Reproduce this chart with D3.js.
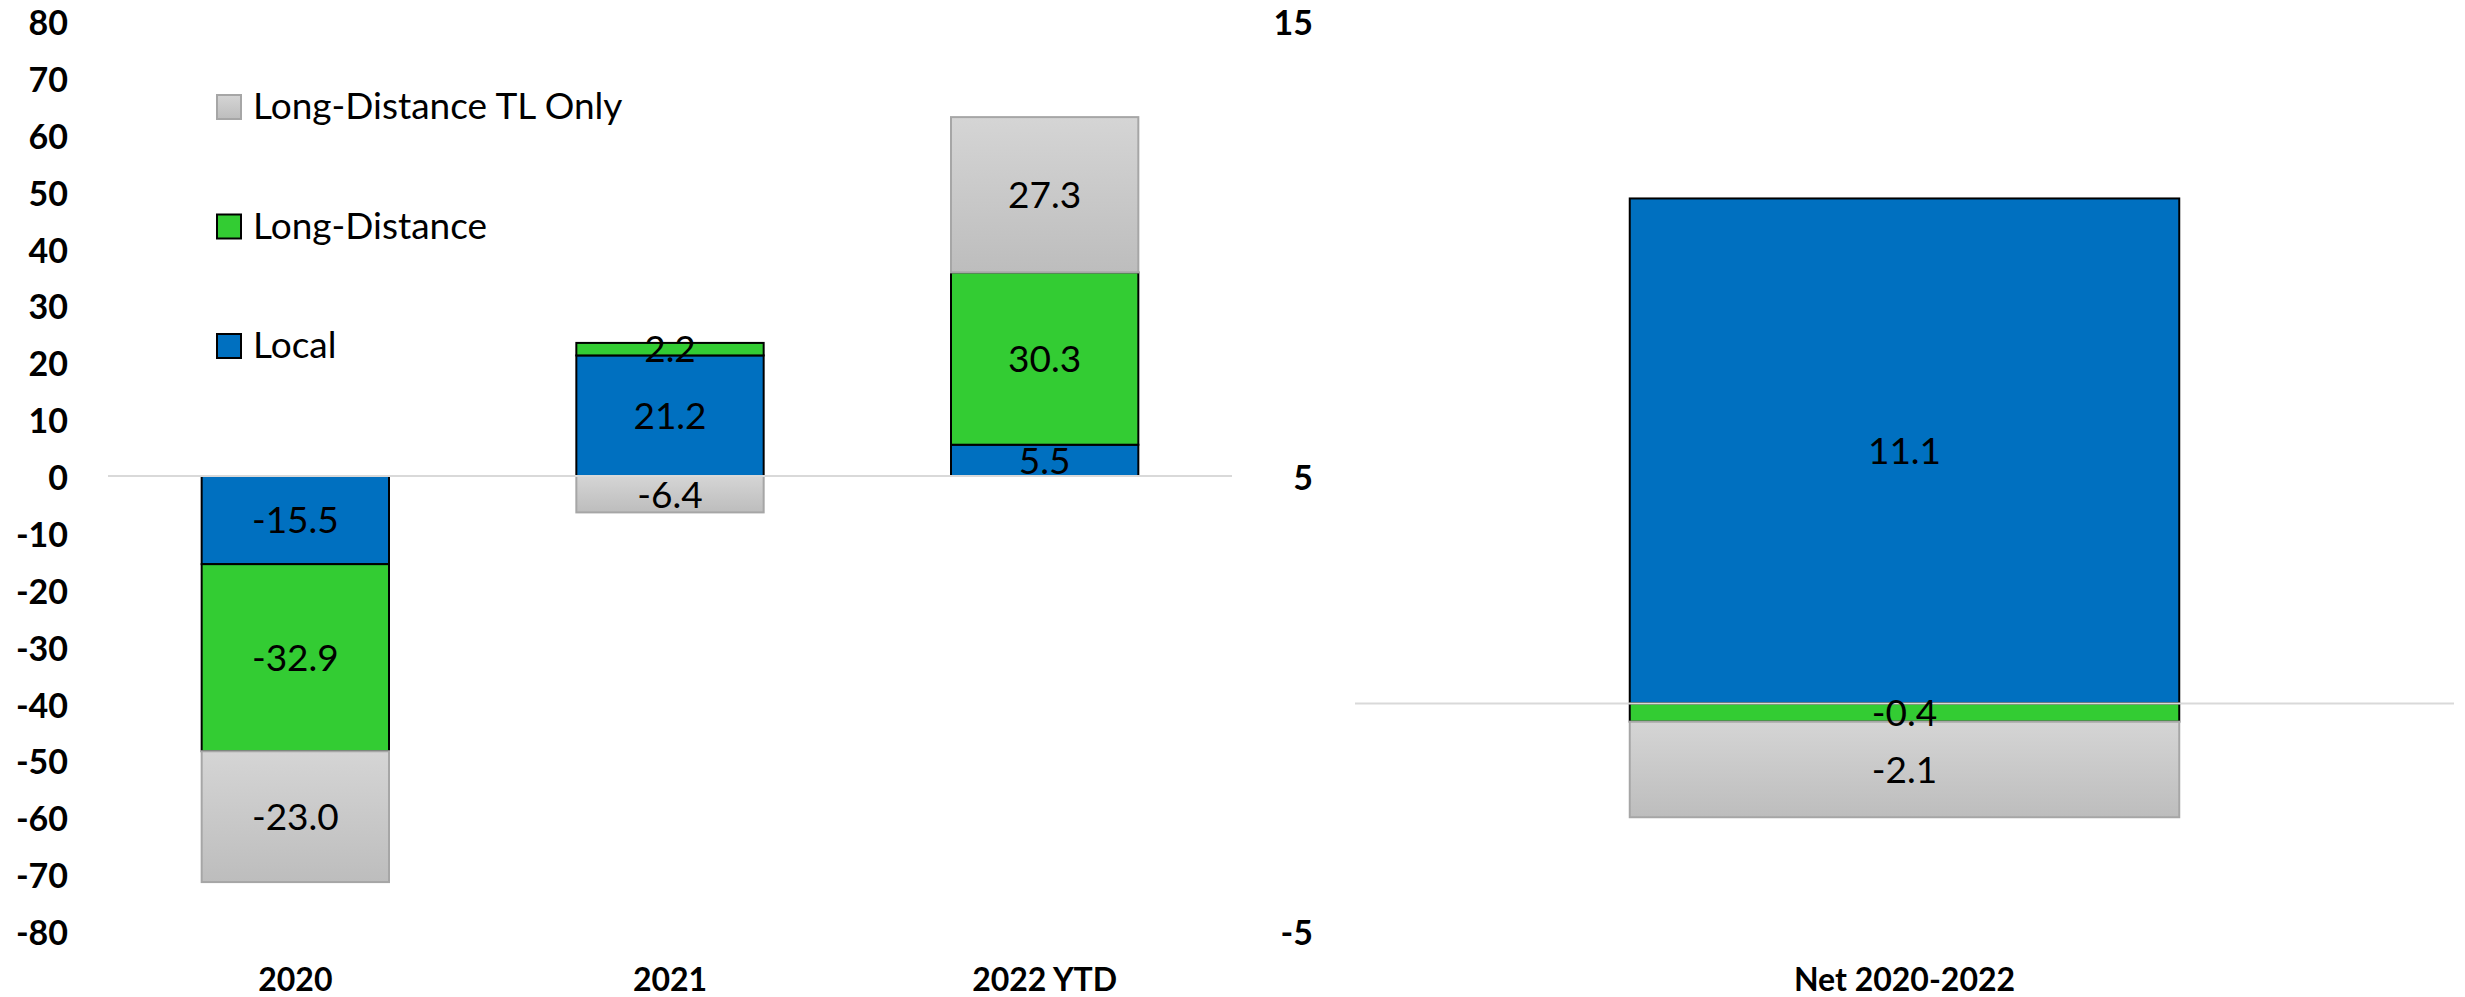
<!DOCTYPE html>
<html>
<head>
<meta charset="utf-8">
<script src="https://cdn.jsdelivr.net/npm/d3@7"></script>
<style>
  html, body { margin: 0; padding: 0; background: #ffffff; }
  svg { display: block; }
</style>
</head>
<body>
<svg id="chart" width="2465" height="997"></svg>
<script>
// ---- data ----
const categoriesLeft = ["2020", "2021", "2022 YTD"];
const categoriesRight = ["Net 2020-2022"];
const seriesNames = ["Local", "Long-Distance", "Long-Distance TL Only"];
const localValues = [-15.5, 21.2, 5.5];
const longDistanceValues = [-32.9, 2.2, 30.3];
const tlOnlyValues = [-23.0, -6.4, 27.3];
const netLocal = [11.1];
const netLongDistance = [-0.4];
const netTlOnly = [-2.1];
const leftTicks = [80, 70, 60, 50, 40, 30, 20, 10, 0, -10, -20, -30, -40, -50, -60, -70, -80];
const rightTicks = [15, 5, -5];
const legendOrder = ["Long-Distance TL Only", "Long-Distance", "Local"];

// ---- setup ----
const svg = d3.select("#chart");
const plotTop = 21, plotBottom = 931;
const colors = { "Local": "#0070C0", "Long-Distance": "#33CC33", "Long-Distance TL Only": "url(#grayGrad)" };
const strokes = { "Local": "#000000", "Long-Distance": "#000000", "Long-Distance TL Only": "#a6a6a6" };

const locale = d3.formatLocale({ decimal: ".", thousands: ",", grouping: [3], currency: ["$", ""], minus: "-" });
const fmt1 = locale.format(".1f");
const fmt0 = locale.format("d");

const defs = svg.append("defs");
const grad = defs.append("linearGradient").attr("id", "grayGrad")
  .attr("x1", 0).attr("y1", 0).attr("x2", 0).attr("y2", 1);
grad.append("stop").attr("offset", "0%").attr("stop-color", "#d5d5d5");
grad.append("stop").attr("offset", "100%").attr("stop-color", "#bdbdbd");

const labelFont = "Lato, 'Open Sans', sans-serif";

function buildRows(cats, loc, ld, tl) {
  return cats.map((c, i) => ({ cat: c, "Local": loc[i], "Long-Distance": ld[i], "Long-Distance TL Only": tl[i] }));
}

function drawPanel(opts) {
  const { cats, rows, xRange, yDomain, ticks, axisX } = opts;
  const x = d3.scaleBand().domain(cats).range(xRange).paddingInner(0.5).paddingOuter(0.25);
  const y = d3.scaleLinear().domain(yDomain).range([plotBottom, plotTop]);

  const stack = d3.stack().keys(seriesNames).offset(d3.stackOffsetDiverging);
  const layers = stack(rows);

  const gp = svg.append("g");
  layers.forEach(layer => {
    const key = layer.key;
    gp.selectAll(null).data(layer).enter().append("rect")
      .attr("x", d => x(d.data.cat))
      .attr("width", x.bandwidth())
      .attr("y", d => y(Math.max(d[0], d[1])))
      .attr("height", d => Math.abs(y(d[0]) - y(d[1])))
      .attr("fill", colors[key])
      .attr("stroke", strokes[key])
      .attr("stroke-width", 2);
  });

  // zero line
  gp.append("line")
    .attr("x1", xRange[0]).attr("x2", xRange[1])
    .attr("y1", y(0)).attr("y2", y(0))
    .attr("stroke", "#d9d9d9").attr("stroke-width", 2);

  // data labels
  layers.forEach(layer => {
    gp.selectAll(null).data(layer).enter().append("text")
      .attr("x", d => x(d.data.cat) + x.bandwidth() / 2)
      .attr("y", d => y((d[0] + d[1]) / 2))
      .attr("dy", "0.36em")
      .attr("text-anchor", "middle")
      .attr("font-family", labelFont)
      .attr("font-size", 37)
      .attr("fill", "#000")
      .text(d => fmt1(d.data[layer.key]));
  });

  // y axis
  const yAxis = d3.axisLeft(y).tickValues(ticks).tickSize(0).tickPadding(0).tickFormat(fmt0);
  const ga = svg.append("g").attr("transform", `translate(${axisX},0)`).call(yAxis);
  ga.select(".domain").remove();
  ga.selectAll("text")
    .attr("font-family", labelFont)
    .attr("font-weight", "bold")
    .attr("font-size", 34)
    .attr("fill", "#000")
    .attr("dy", "0.4em");

  // x axis category labels
  const xAxis = d3.axisBottom(x).tickSize(0).tickPadding(0);
  const gx = svg.append("g").attr("transform", `translate(0,991)`).call(xAxis);
  gx.select(".domain").remove();
  gx.selectAll("text")
    .attr("font-family", labelFont)
    .attr("font-weight", "bold")
    .attr("font-size", 32)
    .attr("fill", "#000")
    .attr("dy", 0)
    .attr("y", 0);
  return { x, y };
}

drawPanel({
  cats: categoriesLeft,
  rows: buildRows(categoriesLeft, localValues, longDistanceValues, tlOnlyValues),
  xRange: [108, 1232],
  yDomain: [-80, 80],
  ticks: leftTicks,
  axisX: 68
});

drawPanel({
  cats: categoriesRight,
  rows: buildRows(categoriesRight, netLocal, netLongDistance, netTlOnly),
  xRange: [1355, 2454],
  yDomain: [-5, 15],
  ticks: rightTicks,
  axisX: 1313
});

// legend
const legend = svg.append("g");
legendOrder.forEach((name, i) => {
  const yy = 95 + i * 119.5;
  legend.append("rect")
    .attr("x", 217).attr("y", yy).attr("width", 24).attr("height", 24)
    .attr("fill", colors[name]).attr("stroke", strokes[name]).attr("stroke-width", 2);
  legend.append("text")
    .attr("x", 253).attr("y", yy + 24)
    .attr("font-family", labelFont)
    .attr("font-size", 37)
    .attr("fill", "#000")
    .text(name);
});
</script>
</body>
</html>
